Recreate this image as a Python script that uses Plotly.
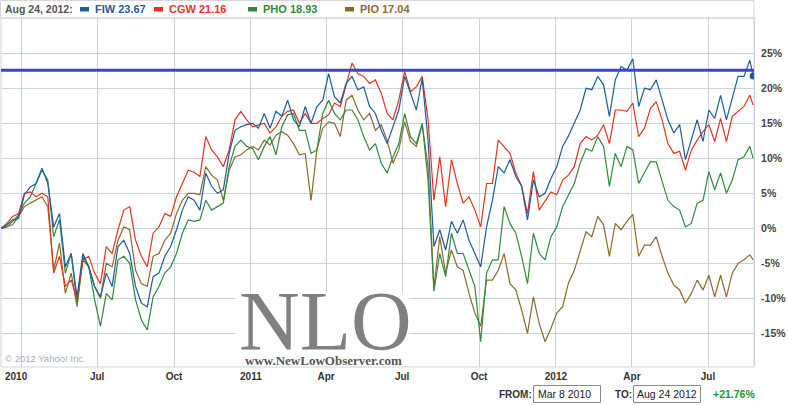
import plotly.graph_objects as go
import pandas as pd

# ---------------- data (percent change since Mar 8 2010) ----------------
dates = list(pd.date_range('2010-03-08', periods=129, freq='7D').strftime('%Y-%m-%d')) + ['2012-08-24']

fiw = [0, 0.5, 1.2, 1.4, 4.8, 5.9, 6.4, 8.6, 6.4, 0.2,
       2.1, -5.5, -3.6, -9.8, -3.6, -5.5, -8.3, -9.8, -6.4, -8.3,
       -2.6, -1.7, -3.6, -8.3, -10.7, -11.2, -6.9, -6.4, -4.0, -2.6,
       -0.2, 2.6, 4.5, 4.0, 2.6, 7.9, 6.0, 5.0, 5.5, 10.7,
       14.0, 14.5, 14.8, 15.0, 14.3, 16.4, 14.3, 16.7, 16.0, 18.3,
       15.5, 14.5, 17.4, 15.0, 17.4, 18.3, 22.1, 18.8, 17.9, 20.7,
       21.7, 19.8, 20.2, 17.4, 16.4, 14.0, 12.1, 14.5, 16.9, 21.7,
       19.3, 16.9, 21.4, 12.6, -2.6, -0.2, -3.1, 1.0, -0.7, 1.2,
       -1.7, -3.6, -5.5, 0.2, 4.0, 8.8, 7.9, 9.8, 7.4, 6.0,
       1.2, 6.9, 4.5, 5.0, 7.1, 8.8, 11.7, 13.2, 15.0, 16.9,
       20.0, 19.8, 21.7, 20.5, 16.0, 21.2, 23.1, 22.6, 24.2, 17.4,
       20.0, 19.8, 21.2, 18.3, 15.5, 13.6, 14.8, 9.8, 12.6, 15.5,
       12.4, 16.9, 15.7, 19.0, 15.5, 18.8, 21.7, 21.7, 24.0,
       21.76]

cgw = [0, 0.7, 1.7, 2.1, 5.0, 5.2, 4.5, 5.0, 4.5, -6.4,
       -4.0, -8.3, -7.4, -10.2, -4.5, -4.0, -6.4, -7.9, -2.6, -3.6,
       -0.2, 2.6, 3.1, -1.7, -4.0, -5.5, -0.7, 0.2, 2.1, 1.7,
       4.5, 6.4, 8.3, 8.0, 7.4, 13.1, 11.2, 10.2, 8.8, 11.2,
       15.5, 16.7, 15.5, 14.5, 14.8, 15.0, 13.6, 14.5, 16.0, 16.7,
       16.9, 15.0, 16.4, 15.0, 15.0, 15.7, 16.2, 17.9, 17.4, 20.7,
       23.6, 22.1, 21.7, 20.7, 21.2, 19.3, 16.4, 15.5, 18.3, 22.4,
       19.5, 20.2, 21.7, 15.5, 4.0, 10.2, 3.1, 9.8, 6.4, 3.6,
       4.5, 2.6, 0.2, 6.4, 6.4, 12.6, 11.7, 10.7, 7.9, 6.0,
       2.1, 8.1, 2.6, 4.0, 5.2, 4.8, 6.9, 7.6, 8.8, 12.1,
       13.1, 12.6, 13.3, 14.8, 12.1, 16.9, 16.9, 16.7, 17.9, 13.1,
       14.3, 17.1, 18.1, 15.5, 12.1, 10.7, 11.0, 8.3, 11.2, 12.6,
       13.8, 14.8, 12.4, 15.7, 12.4, 16.0, 16.7, 17.4, 19.0,
       17.6]

pho = [0, 0.2, 1.0, 1.9, 3.6, 4.5, 6.4, 8.3, 6.9, -1.2,
       1.2, -6.4, -3.6, -10.7, -4.0, -5.5, -10.2, -14.0, -9.3, -10.2,
       -4.5, -4.0, -5.0, -10.2, -13.1, -14.5, -9.8, -8.3, -6.4, -5.5,
       -3.6, -0.7, 1.2, 1.0, 1.2, 4.0, 2.6, 3.1, 3.6, 8.8,
       11.7, 12.6, 11.7, 11.4, 9.8, 11.7, 13.1, 10.5, 14.5, 16.2,
       16.4, 14.0, 14.0, 10.7, 11.2, 16.4, 18.3, 16.4, 15.5, 16.9,
       16.9, 15.5, 13.1, 11.2, 12.1, 9.3, 7.9, 10.2, 12.1, 16.4,
       13.1, 12.1, 15.0, 6.9, -9.0, -3.6, -6.9, -0.7, -3.6, -3.6,
       -6.0, -8.3, -16.2, -6.4, -4.5, -4.5, 3.1, 0.7, -0.7, -4.0,
       -7.9, -0.7, -3.6, -4.5, -1.2, 0.2, 3.1, 4.8, 6.4, 9.3,
       11.4, 11.0, 13.1, 11.7, 6.0, 10.7, 8.8, 11.7, 11.2, 6.4,
       7.9, 9.5, 9.5, 6.7, 4.0, 3.1, 2.6, 0.2, 0.7, 3.6,
       4.0, 8.1, 5.5, 7.9, 5.0, 6.9, 9.8, 10.2, 11.7,
       10.0]

pio = [0, 0.2, 0.5, 1.7, 3.1, 3.6, 4.0, 4.5, 3.1, -6.0,
       -2.1, -9.3, -6.4, -11.2, -4.5, -5.5, -8.3, -10.0, -5.0, -5.5,
       -1.7, 0.2, -0.2, -6.0, -7.9, -8.3, -4.0, -3.6, -1.7, -0.7,
       2.1, 4.0, 5.0, 5.0, 4.8, 8.8, 7.6, 6.9, 4.0, 8.3,
       10.2, 10.5, 11.2, 11.7, 11.2, 12.6, 11.9, 13.3, 13.8, 13.3,
       12.1, 10.5, 10.7, 4.0, 11.2, 14.3, 15.2, 15.0, 13.1, 18.3,
       19.0, 16.9, 15.5, 16.4, 14.0, 14.8, 12.6, 9.3, 11.2, 15.2,
       12.4, 11.7, 14.8, 8.8, -8.5, -1.2, -6.4, -3.1, -5.5, -6.0,
       -9.3, -12.1, -14.0, -7.4, -7.4, -6.0, -3.6, -7.9, -8.8, -11.7,
       -15.0, -9.8, -13.6, -16.2, -14.3, -12.1, -11.2, -7.8, -6.0, -3.1,
       -0.5, -1.2, 1.7, 0.5, -4.0, 0.7, -0.2, 1.0, 2.0, -4.0,
       -2.4, -2.4, -1.2, -4.0, -6.4, -8.1, -8.8, -10.7, -9.3, -7.4,
       -8.8, -6.7, -9.8, -6.7, -9.8, -6.4, -5.0, -4.5, -3.8,
       -4.5]

series_names = ['FIW', 'CGW', 'PHO', 'PIO']
last_prices = ['23.67', '21.16', '18.93', '17.04']
marker_level = 22.57

x_tick_vals = ['2010-04-01', '2010-07-01', '2010-10-01', '2011-01-01', '2011-04-01',
               '2011-07-01', '2011-10-01', '2012-01-01', '2012-04-01', '2012-07-01']
x_tick_text = ['', 'Jul', 'Oct', '2011', 'Apr', 'Jul', 'Oct', '2012', 'Apr', 'Jul']
y_tick_vals = [-15, -10, -5, 0, 5, 10, 15, 20, 25]
y_tick_text = ['-15%', '-10%', '-5%', '0%', '5%', '10%', '15%', '20%', '25%']

# ---------------- styling ----------------
colors = {'FIW': '#1f5c9c', 'CGW': '#e8321c', 'PHO': '#2e8b3c', 'PIO': '#8c6a2c'}
GRID = '#c9d5de'
FONT = 'Liberation Sans'
W, H = 788, 405
L, R, T, B = 1, 34, 18, 38
PW, PH = W - L - R, H - T - B


def px(x):
    return (x - L) / PW


def py(y):
    return (H - B - y) / PH


fig = go.Figure()
values = {'FIW': fiw, 'CGW': cgw, 'PHO': pho, 'PIO': pio}
for name in ['PIO', 'PHO', 'CGW', 'FIW']:
    fig.add_trace(go.Scatter(x=dates, y=values[name], mode='lines', name=name,
                             line=dict(color=colors[name], width=1.2), hoverinfo='skip'))

shapes = []
# legend box on top
shapes.append(dict(type='rect', xref='paper', yref='paper', x0=px(0.5), x1=px(754), y0=py(18), y1=py(0.5),
                   line=dict(color='#d6d6d6', width=1), fillcolor='white', layer='below'))
# plot frame
shapes.append(dict(type='rect', xref='paper', yref='paper', x0=0, x1=1, y0=0, y1=1,
                   line=dict(color=GRID, width=1), layer='below'))
# marker level line
shapes.append(dict(type='line', xref='paper', yref='y', x0=0, x1=1, y0=marker_level, y1=marker_level,
                   line=dict(color='#3d45c6', width=3), layer='above'))
# watermark backing
shapes.append(dict(type='rect', xref='paper', yref='paper', x0=px(236), x1=px(409), y0=py(366), y1=py(293),
                   line=dict(width=0), fillcolor='white', layer='above'))

# end dot for FIW
fig.add_trace(go.Scatter(x=[dates[-1]], y=[fiw[-1]], mode='markers',
                         marker=dict(color=colors['FIW'], size=7), hoverinfo='skip'))

annotations = []


def txt(text, x, y, color='#333', size=11, bold=True, anchor='left', family=FONT):
    annotations.append(dict(text=text, xref='paper', yref='paper', x=0, y=1,
                            xshift=x - L, yshift=T - y, xanchor=anchor, yanchor='middle',
                            showarrow=False,
                            font=dict(family=family, size=size, color=color,
                                      weight='bold' if bold else 'normal')))


txt('Aug 24, 2012:', 3, 9, color='#555', size=10.5)
leg_x = [80, 154, 248, 345]
for i, name in enumerate(series_names):
    x0 = leg_x[i]
    shapes.append(dict(type='rect', xref='paper', yref='paper', x0=px(x0), x1=px(x0 + 9),
                       y0=py(11.5), y1=py(7), line=dict(width=0), fillcolor=colors[name]))
    txt(f'{name} {last_prices[i]}', x0 + 13, 9, color=colors[name], size=11)

# first x label
txt('2010', 3, 376, color='#333', size=10)
# copyright
txt('© 2012 Yahoo! Inc.', 3, 358, color='#a3adb8', size=9.5, bold=False)
# watermark
txt('NLO', 325, 321, color='#808080', size=84, bold=False, anchor='center', family='Liberation Serif')
txt('www.NewLowObserver.com', 323, 360, color='#555', size=13, bold=True, anchor='center',
    family='Liberation Serif')

# bottom from/to controls
txt('FROM:', 497, 394, color='#333', size=10)
shapes.append(dict(type='rect', xref='paper', yref='paper', x0=px(533.5), x1=px(600.5), y0=py(402.5), y1=py(385.5),
                   line=dict(color='#8a8a8a', width=1), fillcolor='white'))
txt('Mar 8 2010', 536, 394, color='#222', size=10.5, bold=False)
txt('TO:', 613, 394, color='#333', size=10)
shapes.append(dict(type='rect', xref='paper', yref='paper', x0=px(633.5), x1=px(700.5), y0=py(402.5), y1=py(385.5),
                   line=dict(color='#8a8a8a', width=1), fillcolor='white'))
txt('Aug 24 2012', 635, 394, color='#222', size=10.5, bold=False)
txt('+21.76%', 711, 394, color='#22962a', size=10.5)

fig.update_layout(
    width=W, height=H,
    margin=dict(l=L, r=R, t=T, b=B),
    paper_bgcolor='white', plot_bgcolor='white',
    showlegend=False,
    shapes=shapes, annotations=annotations,
    font=dict(family=FONT, color='#333'),
    xaxis=dict(type='date', range=['2010-03-08', '2012-08-25'],
               tickvals=x_tick_vals, ticktext=x_tick_text,
               showgrid=True, gridcolor=GRID, gridwidth=1, zeroline=False,
               showline=False, ticks='', ticklabelstandoff=2,
               tickfont=dict(family=FONT, size=10, color='#333', weight='bold')),
    yaxis=dict(range=[-19.81, 30.04], side='right',
               tickvals=y_tick_vals, ticktext=y_tick_text,
               showgrid=True, gridcolor=GRID, gridwidth=1, zeroline=False,
               showline=True, linecolor=GRID, ticks='', ticklabelstandoff=4,
               tickfont=dict(family=FONT, size=10.5, color='#444', weight='bold')),
)

fig.write_html('out.html', config={'displayModeBar': False},
               post_script="document.body.style.margin='0';document.body.style.overflow='hidden';")
